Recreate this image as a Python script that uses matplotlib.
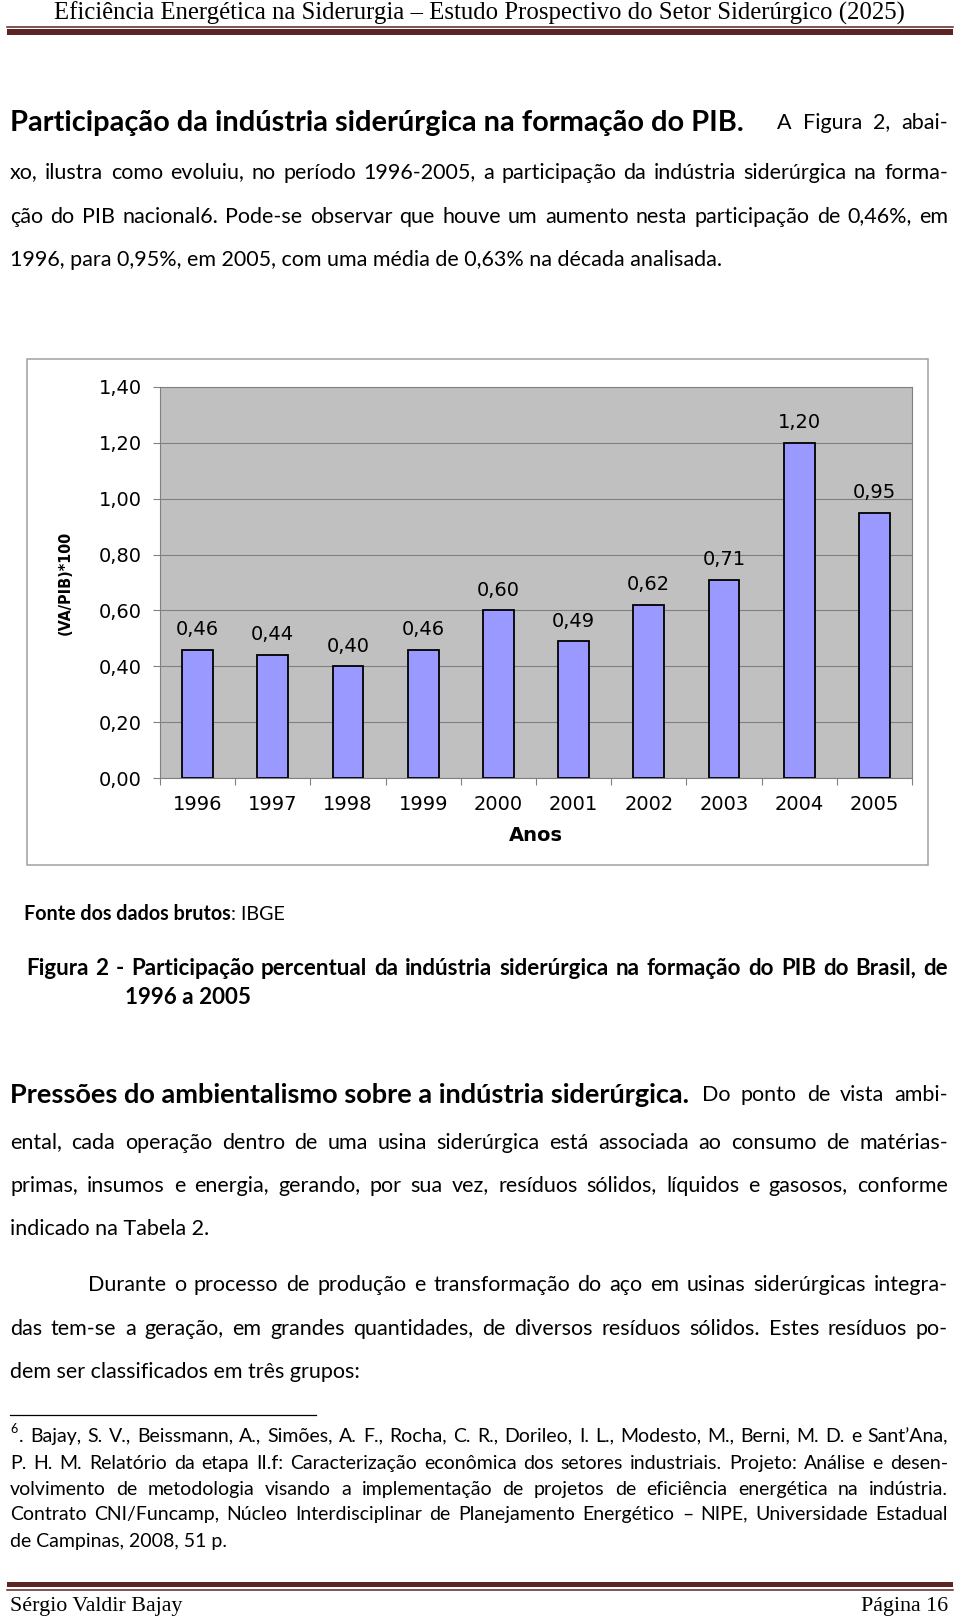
import matplotlib
matplotlib.use('Agg')
import matplotlib.pyplot as plt
from matplotlib.patches import Rectangle
from matplotlib.font_manager import FontProperties
import numpy as np

# chart data
years = ['1996', '1997', '1998', '1999', '2000', '2001', '2002', '2003', '2004', '2005']
share = [0.46, 0.44, 0.40, 0.46, 0.60, 0.49, 0.62, 0.71, 1.20, 0.95]
y_ticks = [0.0, 0.2, 0.4, 0.6, 0.8, 1.0, 1.2, 1.4]


def br(v):
    return ('%.2f' % v).replace('.', ',')


# page text
header = 'Eficiência Energética na Siderurgia – Estudo Prospectivo do Setor Siderúrgico (2025)'
heading1 = 'Participação da indústria siderúrgica na formação do PIB.'
para1 = ['xo, ilustra como evoluiu, no período 1996-2005, a participação da indústria siderúrgica na forma-',
         'ção do PIB nacional6. Pode-se observar que houve um aumento nesta participação de 0,46%, em']
para1_last = '1996, para 0,95%, em 2005, com uma média de 0,63% na década analisada.'
caption = ['Figura 2 - Participação percentual da indústria siderúrgica na formação do PIB do Brasil, de',
           '1996 a 2005']
heading2 = 'Pressões do ambientalismo sobre a indústria siderúrgica.'
para2 = ['ental, cada operação dentro de uma usina siderúrgica está associada ao consumo de matérias-',
         'primas, insumos e energia, gerando, por sua vez, resíduos sólidos, líquidos e gasosos, conforme']
para3 = ['das tem-se a geração, em grandes quantidades, de diversos resíduos sólidos. Estes resíduos po-']
notes = ['P. H. M. Relatório da etapa II.f: Caracterização econômica dos setores industriais. Projeto: Análise e desen-',
         'volvimento de metodologia visando a implementação de projetos de eficiência energética na indústria.',
         'Contrato CNI/Funcamp, Núcleo Interdisciplinar de Planejamento Energético – NIPE, Universidade Estadual']
note_first = '. Bajay, S. V., Beissmann, A., Simões, A. F., Rocha, C. R., Dorileo, I. L., Modesto, M., Berni, M. D. e Sant’Ana,'

W, H = 960, 1619
fig = plt.figure(figsize=(W / 100, H / 100), dpi=100)
page = fig.add_axes([0, 0, 1, 1])
page.set_xlim(0, W)
page.set_ylim(H, 0)
page.axis('off')
rend = fig.canvas.get_renderer()

BODY = 'Lato'
SERIF = 'Liberation Serif'
CHART = 'DejaVu Sans'
MAROON = '#5e2424'


def text_width(s, size, weight='normal', family=BODY):
    t = page.text(0, 0, s, fontsize=size, fontweight=weight, family=family)
    w = t.get_window_extent(renderer=rend).width
    t.remove()
    return w


def fit(s, target, weight='normal', family=BODY):
    return 20.0 * target / text_width(s, 20, weight, family)


def base(y, s, size, weight):
    # y is the visual middle of the line; return a baseline that agg
    # puts on the same pixel row for every word of that line
    n = round(y + 0.28 * size * 100 / 72)
    fp = FontProperties(family=BODY, size=size, weight=weight)
    w, h, d = rend.get_text_width_height_descent(s, fp, ismath=False)
    f = d - np.floor(d)
    g = (h - d) - np.floor(h - d)
    return n + np.floor(g + f) - f


def justify(s, x0, x1, y, size, weight='normal'):
    words = s.split(' ')
    widths = [text_width(w, size, weight) for w in words]
    gap = (x1 - x0 - sum(widths)) / max(len(words) - 1, 1)
    x = x0
    for w, wd in zip(words, widths):
        page.text(x, base(y, w, size, weight), w, fontsize=size, fontweight=weight,
                  family=BODY, va='baseline')
        x += wd + gap


def put(s, x, y, size, weight='normal', ha='left'):
    return page.text(x, base(y, s, size, weight), s, fontsize=size, fontweight=weight,
                     family=BODY, va='baseline', ha=ha)


# header / footer
hs = fit(header, 850, family=SERIF)
page.text(479, 20, header, fontsize=hs, family=SERIF, ha='center', va='baseline')
page.plot([7, 953], [27, 27], color=MAROON, lw=1.1)
page.add_patch(Rectangle((7, 29), 946, 6, color=MAROON, lw=0))
page.add_patch(Rectangle((7, 1582), 946, 5, color=MAROON, lw=0))
page.plot([7, 953], [1590, 1590], color=MAROON, lw=1.1)
fs = fit('Sérgio Valdir Bajay', 173, family=SERIF)
page.text(10, 1611, 'Sérgio Valdir Bajay', fontsize=fs, family=SERIF, va='baseline')
page.text(948, 1611, 'Página 16', fontsize=fs, family=SERIF, va='baseline', ha='right')

# body text
body = min(fit(s, 938) for s in para1 + para2 + para3) * 0.975
put(heading1, 10, 123, fit(heading1, 733, 'bold'), 'bold')
justify('A Figura 2, abai-', 777, 948, 123, body)
for s, y in zip(para1, [173, 217]):
    justify(s, 10, 948, y, body)
put(para1_last, 10, 260, body)

fonte = fit('Fonte dos dados brutos: IBGE', 262, 'bold')
t = put('Fonte dos dados brutos', 24, 914, fonte, 'bold')
put(': IBGE', 24 + t.get_window_extent(renderer=rend).width, 914, fonte)
cap = fit(caption[0], 922, 'bold') * 0.975
justify(caption[0], 26, 948, 969, cap, 'bold')
put(caption[1], 125, 998, cap, 'bold')

put(heading2, 10, 1095, fit(heading2, 680, 'bold'), 'bold')
justify('Do ponto de vista ambi-', 702, 948, 1095, body)
for s, y in zip(para2, [1143, 1186]):
    justify(s, 10, 948, y, body)
put('indicado na Tabela 2.', 10, 1229, body)
justify('Durante o processo de produção e transformação do aço em usinas siderúrgicas integra-', 88, 948, 1285, body)
justify(para3[0], 10, 948, 1329, body)
put('dem ser classificados em três grupos:', 10, 1372, body)

# footnote
page.plot([10, 316], [1415, 1415], color='black', lw=0.9)
note = min(fit(s, 938) for s in notes) * 0.975
put('6', 10, 1429, note * 0.65)
justify(note_first, 19, 948, 1437, note)
for s, y in zip(notes, [1464, 1490, 1515]):
    justify(s, 10, 948, y, note)
put('de Campinas, 2008, 51 p.', 10, 1542, note)

# chart frame
page.add_patch(Rectangle((27, 359), 901, 506, facecolor='white', edgecolor='#a0a0a0', lw=1.1))

ax = fig.add_axes([160 / W, 1 - 778 / H, 752 / W, 391 / H])
ax.set_facecolor('#c0c0c0')
x = np.arange(len(years))
ax.bar(x, share, width=0.41, color='#9999ff', edgecolor='black', linewidth=1.3, zorder=3)
for xi, v in zip(x, share):
    ax.annotate(br(v), (xi, v), xytext=(0, 14.5), textcoords='offset points',
                ha='center', va='center', fontsize=14, family=CHART)

ax.set_xlim(-0.5, 9.5)
ax.set_ylim(0, 1.4)
ax.set_yticks(y_ticks)
ax.set_yticklabels([br(v) for v in y_ticks], fontsize=14, family=CHART)
ax.set_xticks(x)
ax.set_xticklabels(years, fontsize=14, family=CHART)
ax.set_xticks(np.arange(-0.5, 10, 1), minor=True)
ax.tick_params(axis='x', which='major', length=0, pad=12)
ax.tick_params(axis='x', which='minor', length=5, color='#808080', width=0.8)
ax.tick_params(axis='y', length=5, color='#808080', width=0.8, pad=8)
ax.yaxis.grid(True, color='#808080', lw=0.8)
ax.set_axisbelow(True)
for sp in ax.spines.values():
    sp.set_color('#808080')
    sp.set_linewidth(0.8)

ax.set_xlabel('Anos', fontsize=14, fontweight='bold', family=CHART, labelpad=9)
ax.set_ylabel('(VA/PIB)*100', fontsize=11.5, fontweight='bold', family=CHART, fontstretch='condensed')
ax.yaxis.set_label_coords((73 - 160) / 752, 0.5)

fig.savefig('out.png', dpi=100)
